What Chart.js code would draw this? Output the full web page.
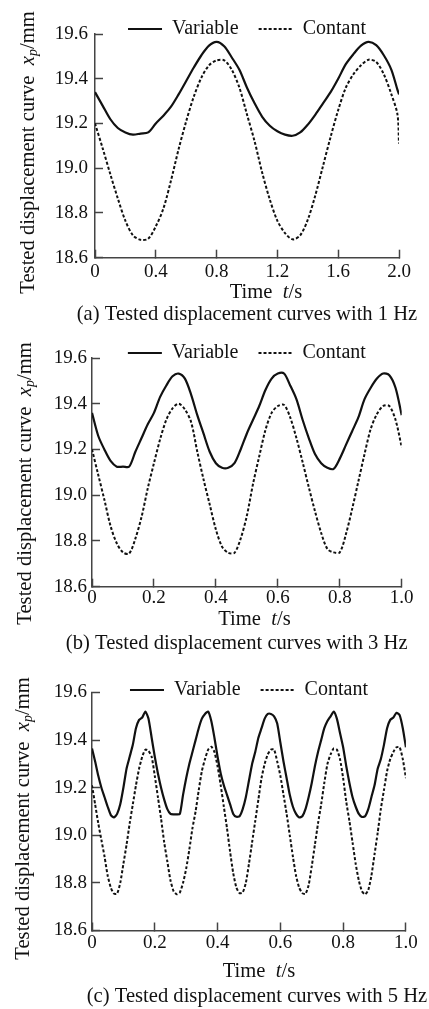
<!DOCTYPE html>
<html>
<head>
<meta charset="utf-8">
<script src="https://cdn.jsdelivr.net/npm/chart.js@4.4.1/dist/chart.umd.min.js"></script>
<style>
  body { margin: 0; background: #fff; width: 429px; height: 1009px; overflow: hidden; position: relative; }
  canvas { position: absolute; left: 0; }
</style>
</head>
<body>
<canvas id="chartA"></canvas>
<canvas id="chartB"></canvas>
<canvas id="chartC"></canvas>
<script>
// ---- data ----
const seriesNames = ['Variable', 'Contant'];
const captions = [
  '(a) Tested displacement curves with 1 Hz',
  '(b) Tested displacement curves with 3 Hz',
  '(c) Tested displacement curves with 5 Hz'
];
const yTicks = [18.6, 18.8, 19.0, 19.2, 19.4, 19.6];
const xTicksA = [0, 0.4, 0.8, 1.2, 1.6, 2.0];
const xTicksBC = [0, 0.2, 0.4, 0.6, 0.8, 1.0];

// (a) 1 Hz
const tA = [0, 0.05, 0.1, 0.15, 0.2, 0.25, 0.3, 0.35, 0.4, 0.45, 0.5, 0.55, 0.6, 0.65, 0.7, 0.75, 0.8, 0.85, 0.9, 0.95,
  1.0, 1.05, 1.1, 1.15, 1.2, 1.25, 1.3, 1.35, 1.4, 1.45, 1.5, 1.55, 1.6, 1.65, 1.7, 1.75, 1.8, 1.85, 1.9, 1.95, 1.99, 2.0];
const varA = [19.34, 19.28, 19.22, 19.18, 19.16, 19.15, 19.155, 19.16, 19.20, 19.235, 19.275, 19.33, 19.39, 19.45, 19.505, 19.548, 19.565, 19.545, 19.495, 19.44,
  19.36, 19.29, 19.23, 19.19, 19.165, 19.15, 19.145, 19.16, 19.195, 19.24, 19.29, 19.34, 19.40, 19.465, 19.51, 19.548, 19.565, 19.55, 19.505, 19.44, 19.35, 19.33];
const conA = [19.20, 19.09, 18.975, 18.865, 18.765, 18.70, 18.68, 18.685, 18.74, 18.82, 18.945, 19.085, 19.21, 19.32, 19.405, 19.46, 19.482, 19.482, 19.44, 19.36,
  19.24, 19.12, 18.98, 18.86, 18.765, 18.71, 18.682, 18.70, 18.77, 18.88, 19.01, 19.14, 19.26, 19.36, 19.42, 19.46, 19.485, 19.475, 19.42, 19.33, 19.24, 19.11];

// (b) 3 Hz
const tB = [0, 0.02, 0.04, 0.06, 0.08, 0.1, 0.12, 0.14, 0.16, 0.18, 0.2, 0.22, 0.24, 0.26, 0.28, 0.3, 0.32, 0.34, 0.36, 0.38,
  0.4, 0.42, 0.44, 0.46, 0.48, 0.5, 0.52, 0.54, 0.56, 0.58, 0.6, 0.62, 0.64, 0.66, 0.68, 0.7, 0.72, 0.74, 0.76, 0.78,
  0.8, 0.82, 0.84, 0.86, 0.88, 0.9, 0.92, 0.94, 0.96, 0.98, 1.0];
const varB = [19.36, 19.26, 19.20, 19.15, 19.125, 19.125, 19.125, 19.19, 19.25, 19.31, 19.36, 19.43, 19.48, 19.52, 19.532, 19.51, 19.44, 19.35, 19.27, 19.19,
  19.14, 19.12, 19.12, 19.14, 19.20, 19.27, 19.33, 19.39, 19.46, 19.51, 19.532, 19.532, 19.48, 19.42, 19.33, 19.25, 19.18, 19.14, 19.12, 19.115,
  19.16, 19.22, 19.28, 19.34, 19.42, 19.47, 19.51, 19.532, 19.525, 19.47, 19.35];
const conB = [19.20, 19.09, 18.98, 18.865, 18.79, 18.75, 18.745, 18.81, 18.905, 19.03, 19.14, 19.245, 19.33, 19.38, 19.40, 19.375, 19.32, 19.19, 19.07, 18.96,
  18.85, 18.775, 18.748, 18.748, 18.81, 18.91, 19.05, 19.17, 19.285, 19.36, 19.39, 19.395, 19.34, 19.25, 19.145, 19.035, 18.93, 18.835, 18.765, 18.75,
  18.75, 18.83, 18.94, 19.06, 19.18, 19.29, 19.355, 19.39, 19.39, 19.33, 19.21];

// (c) 5 Hz
const tC = [0, 0.01, 0.02, 0.03, 0.04, 0.05, 0.06, 0.07, 0.08, 0.09, 0.1, 0.11, 0.12, 0.13, 0.14, 0.15, 0.16, 0.17, 0.18, 0.19,
  0.2, 0.21, 0.22, 0.23, 0.24, 0.25, 0.26, 0.27, 0.28, 0.29, 0.3, 0.31, 0.32, 0.33, 0.34, 0.35, 0.36, 0.37, 0.38, 0.39,
  0.4, 0.41, 0.42, 0.43, 0.44, 0.45, 0.46, 0.47, 0.48, 0.49, 0.5, 0.51, 0.52, 0.53, 0.54, 0.55, 0.56, 0.57, 0.58, 0.59,
  0.6, 0.61, 0.62, 0.63, 0.64, 0.65, 0.66, 0.67, 0.68, 0.69, 0.7, 0.71, 0.72, 0.73, 0.74, 0.75, 0.76, 0.77, 0.78, 0.79,
  0.8, 0.81, 0.82, 0.83, 0.84, 0.85, 0.86, 0.87, 0.88, 0.89, 0.9, 0.91, 0.92, 0.93, 0.94, 0.95, 0.96, 0.97, 0.98, 0.99, 1.0];
const varC = [19.365, 19.31, 19.25, 19.20, 19.16, 19.12, 19.085, 19.075, 19.09, 19.13, 19.20, 19.28, 19.33, 19.38, 19.45, 19.485, 19.495, 19.52, 19.49, 19.41,
  19.33, 19.26, 19.20, 19.15, 19.11, 19.09, 19.088, 19.088, 19.09, 19.17, 19.24, 19.30, 19.35, 19.40, 19.45, 19.49, 19.51, 19.52, 19.48, 19.41,
  19.33, 19.26, 19.21, 19.17, 19.13, 19.09, 19.078, 19.08, 19.11, 19.16, 19.23, 19.30, 19.35, 19.41, 19.45, 19.49, 19.51, 19.51, 19.50, 19.47,
  19.39, 19.31, 19.24, 19.17, 19.12, 19.09, 19.075, 19.08, 19.11, 19.16, 19.22, 19.29, 19.35, 19.40, 19.45, 19.48, 19.50, 19.52, 19.49, 19.43,
  19.37, 19.29, 19.22, 19.16, 19.12, 19.09, 19.077, 19.08, 19.11, 19.16, 19.21, 19.28, 19.32, 19.38, 19.45, 19.485, 19.495, 19.515, 19.505, 19.45, 19.37];
const conC = [19.21, 19.13, 19.05, 18.98, 18.91, 18.83, 18.78, 18.755, 18.755, 18.80, 18.88, 18.96, 19.05, 19.13, 19.21, 19.28, 19.33, 19.36, 19.355, 19.33,
  19.25, 19.16, 19.07, 18.97, 18.89, 18.81, 18.765, 18.752, 18.76, 18.80, 18.86, 18.94, 19.03, 19.10, 19.19, 19.27, 19.32, 19.36, 19.372, 19.35,
  19.29, 19.21, 19.12, 19.03, 18.93, 18.84, 18.78, 18.757, 18.76, 18.80, 18.88, 18.97, 19.06, 19.15, 19.24, 19.30, 19.34, 19.36, 19.36, 19.31,
  19.25, 19.17, 19.09, 19.00, 18.91, 18.83, 18.78, 18.757, 18.754, 18.79, 18.87, 18.96, 19.05, 19.13, 19.22, 19.30, 19.34, 19.365, 19.36, 19.32,
  19.24, 19.14, 19.06, 18.97, 18.88, 18.81, 18.765, 18.752, 18.77, 18.83, 18.92, 19.01, 19.11, 19.19, 19.27, 19.32, 19.35, 19.37, 19.37, 19.32, 19.24];

// ---- layout of each panel (page pixels) ----
const layoutA = { top: -1, h: 328, padL: 39.75, padR: 30, padB: 33.3, legendH: 35, xPad: 12.5, yPad: 15, tension: 0.3,
  xTitle: [266, 293], yTitle: [28.3, 152.5], cap: [247, 315] };
const layoutB = { top: 323, h: 332, padL: 40.75, padR: 27.3, padB: 38.3, legendH: 35, xPad: 9.5, yPad: 13, tension: 0.3,
  xTitle: [254.5, 620], yTitle: [25.8, 483.5], cap: [236.7, 643.3] };
const layoutC = { top: 660, h: 349, padL: 40.75, padR: 21.7, padB: 45.1, legendH: 32.5, xPad: 11.2, yPad: 13, tension: 0.2,
  xTitle: [259, 972], yTitle: [23.3, 818.5], cap: [257, 997] };

const SERIF = '"Liberation Serif", "Times New Roman", serif';
const TEXT_SIZE = 20.6;
Chart.defaults.font.family = SERIF;
Chart.defaults.color = '#111';

function drawRuns(ctx, parts, cx, cy) {
  const fontOf = p => (p.it ? 'italic ' : '') + (p.sub ? 14 : TEXT_SIZE) + 'px ' + SERIF;
  let total = 0;
  const widths = parts.map(p => { ctx.font = fontOf(p); const w = ctx.measureText(p.s).width; total += w; return w; });
  let x = cx - total / 2;
  parts.forEach((p, i) => {
    ctx.font = fontOf(p);
    ctx.fillText(p.s, x, cy + (p.sub ? 5 : 0));
    x += widths[i];
  });
}

// axis titles and caption with italic parts; legend box left unclipped so it may overlap the plot top
function textPlugin(L, caption) {
  return {
    id: 'textBits',
    afterLayout(chart) {
      const lg = chart.legend;
      if (lg) lg.bottom = lg.top + 60;
    },
    afterDraw(chart) {
      const ctx = chart.ctx;
      ctx.save();
      ctx.fillStyle = '#111';
      ctx.textAlign = 'left';
      ctx.textBaseline = 'middle';
      drawRuns(ctx, [{ s: 'Time  ' }, { s: 't', it: true }, { s: '/s' }], L.xTitle[0], L.xTitle[1] - L.top);
      drawRuns(ctx, [{ s: caption }], L.cap[0], L.cap[1] - L.top);
      ctx.translate(L.yTitle[0], L.yTitle[1] - L.top);
      ctx.rotate(-Math.PI / 2);
      drawRuns(ctx, [{ s: 'Tested displacement curve  ' }, { s: 'x', it: true }, { s: 'p', it: true, sub: true }, { s: '/mm' }], 0, 0);
      ctx.restore();
    }
  };
}

function axis(ticksList, pad, fmt) {
  return {
    type: 'linear',
    min: ticksList[0],
    max: ticksList[ticksList.length - 1],
    afterBuildTicks: s => { s.ticks = ticksList.map(value => ({ value })); },
    ticks: { padding: pad, color: '#111', autoSkip: false, maxRotation: 0, font: { size: 19, lineHeight: 1 }, callback: fmt },
    grid: { drawOnChartArea: false, tickLength: -8, tickColor: '#444', tickWidth: 1.5 },
    border: { color: '#444', width: 1.5 }
  };
}

function makeChart(id, L, t, vals, cons, xTicks, caption) {
  const cv = document.getElementById(id);
  cv.width = 429;
  cv.height = L.h;
  cv.style.top = L.top + 'px';
  const pts = arr => arr.map((y, i) => ({ x: t[i], y }));
  new Chart(cv, {
    type: 'line',
    data: {
      datasets: [
        { label: seriesNames[0], data: pts(vals), borderColor: '#111', backgroundColor: '#111', borderWidth: 2.2,
          pointRadius: 0, tension: L.tension },
        { label: seriesNames[1], data: pts(cons), borderColor: '#111', backgroundColor: '#111', borderWidth: 2,
          borderDash: [3, 2], pointRadius: 0, tension: L.tension }
      ]
    },
    options: {
      responsive: false,
      animation: false,
      devicePixelRatio: 1,
      layout: { padding: { left: L.padL, right: L.padR, top: 0, bottom: L.padB } },
      plugins: {
        legend: {
          position: 'top',
          fullSize: false,
          maxHeight: L.legendH,
          // zero-height box = a line sample that keeps the dataset dash
          labels: { boxWidth: 34, boxHeight: 0, padding: 20, color: '#111', font: { size: 20 } }
        },
        tooltip: { enabled: false }
      },
      scales: {
        x: axis(xTicks, L.xPad, v => (v === 0 ? '0' : v.toFixed(1))),
        y: axis(yTicks, L.yPad, v => v.toFixed(1))
      }
    },
    plugins: [textPlugin(L, caption)]
  });
}

makeChart('chartA', layoutA, tA, varA, conA, xTicksA, captions[0]);
makeChart('chartB', layoutB, tB, varB, conB, xTicksBC, captions[1]);
makeChart('chartC', layoutC, tC, varC, conC, xTicksBC, captions[2]);
</script>
</body>
</html>
